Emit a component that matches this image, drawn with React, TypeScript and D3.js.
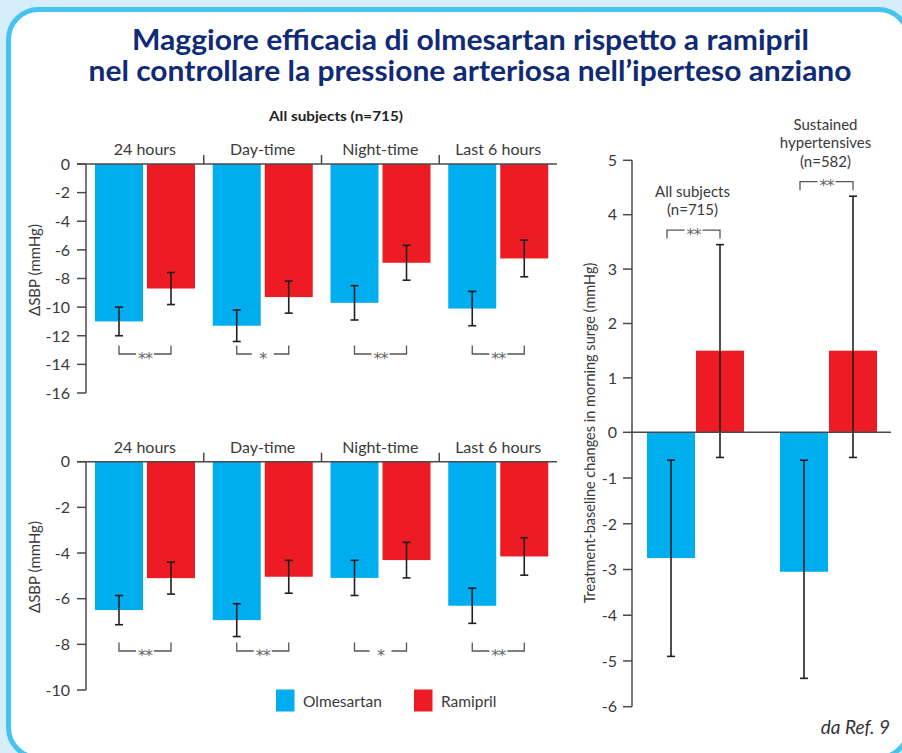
import React from "react";
import * as d3 from "d3";

// ---- Data -------------------------------------------------------------
const periods = ["24 hours", "Day-time", "Night-time", "Last 6 hours"];
const treatments = ["Olmesartan", "Ramipril"];

// ΔSBP, all subjects (n=715)
const allOlmesartan = [-11.0, -11.3, -9.7, -10.1];
const allOlmesartanErr = [1.0, 1.1, 1.2, 1.2];
const allRamipril = [-8.7, -9.3, -6.9, -6.6];
const allRamiprilErr = [1.12, 1.12, 1.22, 1.28];
const allSignificance = ["**", "*", "**", "**"];
const allTicks = [0, -2, -4, -6, -8, -10, -12, -14, -16];

// ΔSBP, second cohort
const sustOlmesartan = [-6.5, -6.94, -5.09, -6.31];
const sustOlmesartanErr = [0.64, 0.72, 0.77, 0.77];
const sustRamipril = [-5.1, -5.04, -4.31, -4.15];
const sustRamiprilErr = [0.7, 0.72, 0.78, 0.82];
const sustSignificance = ["**", "**", "*", "**"];
const sustTicks = [0, -2, -4, -6, -8, -10];

// Morning surge changes
const surgeGroups = ["All subjects", "Sustained hypertensives"];
const surgeGroupLabels = [["All subjects", "(n=715)"], ["Sustained", "hypertensives", "(n=582)"]];
const surgeOlmesartan = [-2.75, -3.05];
const surgeOlmesartanLow = [-4.9, -5.38];
const surgeOlmesartanHigh = [-0.61, -0.61];
const surgeRamipril = [1.5, 1.5];
const surgeRamiprilLow = [-0.55, -0.55];
const surgeRamiprilHigh = [3.45, 4.34];
const surgeSignificance = ["**", "**"];
const surgeTicks = [5, 4, 3, 2, 1, 0, -1, -2, -3, -4, -5, -6];

// ---- Styling ----------------------------------------------------------
const BLUE = "#00aeef";
const RED = "#ed1c24";
const TEXT = "#3a3a3a";
const AXIS = "#4a4a4a";
const ERR = "#231f20";
const FONT = "Lato, 'Open Sans', sans-serif";

const W = 902;
const H = 753;

type PanelProps = {
  yScale: d3.ScaleLinear<number, number>;
  ticks: number[];
  olm: number[];
  olmErr: number[];
  ram: number[];
  ramErr: number[];
  sig: string[];
  bracketY: number;
  yLabelY: number;
};

const xGroups = d3.scaleBand<string>().domain(periods).range([86, 557]);
const xInner = d3.scaleBand<string>().domain(treatments).range([9, 109]).paddingInner(0.077);

function ErrorBar({ x, y1, y2 }: { x: number; y1: number; y2: number }) {
  const c = 4;
  return (
    <g stroke={ERR} strokeWidth={1.6} fill="none">
      <line x1={x} x2={x} y1={y1} y2={y2} />
      <line x1={x - c} x2={x + c} y1={y1} y2={y1} />
      <line x1={x - c} x2={x + c} y1={y2} y2={y2} />
    </g>
  );
}

function Bracket({ x1, x2, y, dir, label }: { x1: number; x2: number; y: number; dir: number; label: string }) {
  const cx = (x1 + x2) / 2;
  const gap = label.length === 1 ? 11 : 9;
  const tip = y + dir * 8.5;
  const d = `M${x1},${tip}V${y}H${cx - gap}M${cx + gap},${y}H${x2}V${tip}`;
  return (
    <g>
      <path d={d} stroke="#555" strokeWidth={1.3} fill="none" />
      <text x={cx} y={y + 9.5} textAnchor="middle" fontFamily="'DejaVu Sans', sans-serif" fontSize={16}
        letterSpacing={-1} fill="#666">
        {label}
      </text>
    </g>
  );
}

function GroupedPanel({ yScale, ticks, olm, olmErr, ram, ramErr, sig, bracketY, yLabelY }: PanelProps) {
  const y0 = yScale(0);
  const yMin = yScale(d3.min(ticks) as number);
  const bw = xInner.bandwidth();
  return (
    <g>
      {/* category labels */}
      {periods.map((p) => (
        <text key={p} x={(xGroups(p) as number) + xGroups.bandwidth() / 2} y={y0 - 9} textAnchor="middle"
          fontFamily={FONT} fontSize={16} fill={TEXT}>
          {p}
        </text>
      ))}
      {/* bars */}
      {periods.map((p, i) => {
        const gx = xGroups(p) as number;
        const bx = gx + (xInner("Olmesartan") as number);
        const rx = gx + (xInner("Ramipril") as number);
        return (
          <g key={p}>
            <rect x={bx} y={y0} width={bw} height={yScale(olm[i]) - y0} fill={BLUE} />
            <rect x={rx} y={y0} width={bw} height={yScale(ram[i]) - y0} fill={RED} />
            <ErrorBar x={bx + bw / 2} y1={yScale(olm[i] + olmErr[i])} y2={yScale(olm[i] - olmErr[i])} />
            <ErrorBar x={rx + bw / 2} y1={yScale(ram[i] + ramErr[i])} y2={yScale(ram[i] - ramErr[i])} />
            <Bracket x1={bx + bw / 2} x2={rx + bw / 2} y={bracketY} dir={-1} label={sig[i]} />
          </g>
        );
      })}
      {/* axes */}
      <g stroke={AXIS} strokeWidth={1.5} fill="none">
        <line x1={86} x2={86} y1={y0} y2={yMin} />
        <line x1={77} x2={557} y1={y0} y2={y0} />
        {ticks.map((t) => (
          <line key={t} x1={77} x2={86} y1={yScale(t)} y2={yScale(t)} />
        ))}
        {periods.slice(1).map((p) => (
          <line key={p} x1={xGroups(p) as number} x2={xGroups(p) as number} y1={y0 - 9} y2={y0} />
        ))}
      </g>
      {ticks.map((t) => (
        <text key={t} x={70} y={yScale(t)} dy="0.36em" textAnchor="end" fontFamily={FONT} fontSize={16} fill={TEXT}>
          {String(t)}
        </text>
      ))}
      <text transform={`translate(35,${yLabelY}) rotate(-90)`} textAnchor="middle" dy="0.35em"
        fontFamily={FONT} fontSize={15} fill={TEXT}>
        ΔSBP (mmHg)
      </text>
    </g>
  );
}

function SurgePanel() {
  const y = d3.scaleLinear().domain([-6, 0, 5]).range([706.7, 432.3, 160.3]);
  const xg = d3.scaleBand<string>().domain(surgeGroups).range([632, 898]);
  const xi = d3.scaleBand<string>().domain(treatments).range([15, 112]).paddingInner(0.02);
  const bw = xi.bandwidth();
  const y0 = y(0);
  return (
    <g>
      {surgeGroups.map((g, i) => {
        const gx = xg(g) as number;
        const bx = gx + (xi("Olmesartan") as number);
        const rx = gx + (xi("Ramipril") as number);
        const bc = bx + bw / 2;
        const rc = rx + bw / 2;
        const lineY = y(surgeRamiprilHigh[i]) - 6 - 8.5;
        const labels = surgeGroupLabels[i];
        return (
          <g key={g}>
            <rect x={bx} y={y0} width={bw} height={y(surgeOlmesartan[i]) - y0} fill={BLUE} />
            <rect x={rx} y={y(surgeRamipril[i])} width={bw} height={y0 - y(surgeRamipril[i])} fill={RED} />
            <ErrorBar x={bc} y1={y(surgeOlmesartanHigh[i])} y2={y(surgeOlmesartanLow[i])} />
            <ErrorBar x={rc} y1={y(surgeRamiprilHigh[i])} y2={y(surgeRamiprilLow[i])} />
            <Bracket x1={bc - 4} x2={rc} y={lineY} dir={1} label={surgeSignificance[i]} />
            {labels.map((l, k) => (
              <text key={l} x={(bc + rc) / 2 - 3} y={lineY - 15 - (labels.length - 1 - k) * 18.5}
                textAnchor="middle" fontFamily={FONT} fontSize={15} fill={TEXT}>
                {l}
              </text>
            ))}
          </g>
        );
      })}
      <g stroke={AXIS} strokeWidth={1.5} fill="none">
        <line x1={632} x2={632} y1={y(5)} y2={y(-6)} />
        <line x1={632} x2={891} y1={y0} y2={y0} />
        {surgeTicks.map((t) => (
          <line key={t} x1={623} x2={632} y1={y(t)} y2={y(t)} />
        ))}
      </g>
      {surgeTicks.map((t) => (
        <text key={t} x={617} y={y(t)} dy="0.36em" textAnchor="end" fontFamily={FONT} fontSize={16} fill={TEXT}>
          {String(t)}
        </text>
      ))}
      <text transform={`translate(590,433) rotate(-90)`} textAnchor="middle" dy="0.35em"
        fontFamily={FONT} fontSize={14.5} fill={TEXT}>
        Treatment-baseline changes in morning surge (mmHg)
      </text>
    </g>
  );
}

export default function App() {
  const yTop = d3.scaleLinear().domain([-16, 0]).range([393, 164]);
  const yBottom = d3.scaleLinear().domain([-10, 0]).range([690, 461.7]);
  const legendColor = d3.scaleOrdinal<string, string>().domain(treatments).range([BLUE, RED]);
  const legendX = d3.scaleOrdinal<string, number>().domain(treatments).range([276, 414]);
  return (
    <svg width={W} height={H} viewBox={`0 0 ${W} ${H}`}
      style={{ position: "absolute", left: 0, top: 0, display: "block" }}>
      <rect x={0} y={0} width={W} height={H} fill="#d6eefa" />
      <rect x={8.5} y={9.5} width={900} height={748} rx={30} fill="#ffffff" stroke="#45c3f1" strokeWidth={5} />

      <g fontFamily={FONT} fontWeight={700} fill="#102b74" textAnchor="middle">
        <text x={470.5} y={50} fontSize={28} textLength={677} lengthAdjust="spacingAndGlyphs">
          Maggiore efficacia di olmesartan rispetto a ramipril
        </text>
        <text x={470} y={81} fontSize={28} textLength={763} lengthAdjust="spacingAndGlyphs">
          nel controllare la pressione arteriosa nell’iperteso anziano
        </text>
      </g>

      <text x={336} y={121} textAnchor="middle" fontFamily={FONT} fontWeight={700} fontSize={13.5} fill="#222"
        textLength={134} lengthAdjust="spacingAndGlyphs">
        All subjects (n=715)
      </text>

      <GroupedPanel yScale={yTop} ticks={allTicks} olm={allOlmesartan} olmErr={allOlmesartanErr}
        ram={allRamipril} ramErr={allRamiprilErr} sig={allSignificance} bracketY={354} yLabelY={270} />
      <GroupedPanel yScale={yBottom} ticks={sustTicks} olm={sustOlmesartan} olmErr={sustOlmesartanErr}
        ram={sustRamipril} ramErr={sustRamiprilErr} sig={sustSignificance} bracketY={651} yLabelY={567} />

      <SurgePanel />

      {/* legend */}
      {treatments.map((t) => (
        <g key={t}>
          <rect x={legendX(t)} y={689.5} width={18.5} height={22} fill={legendColor(t)} />
          <text x={legendX(t) + 27} y={701} dy="0.36em" fontFamily={FONT} fontSize={15.5} fill={TEXT}>
            {t}
          </text>
        </g>
      ))}

      <text x={890} y={734} textAnchor="end" fontFamily={FONT} fontStyle="italic" fontSize={19} fill="#333">
        da Ref. 9
      </text>
    </svg>
  );
}
